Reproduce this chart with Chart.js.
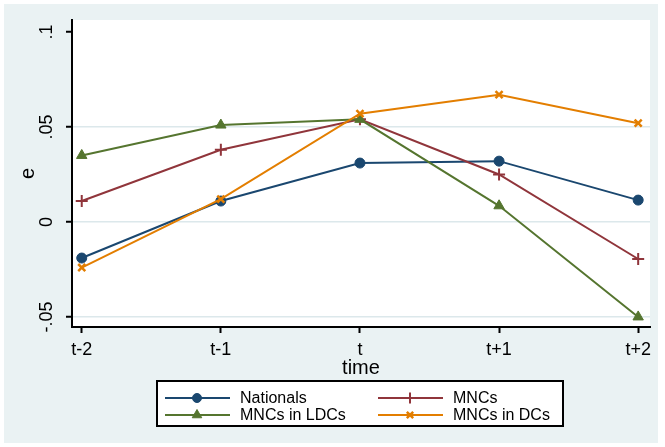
<!DOCTYPE html>
<html lang="en">
<head>
<meta charset="UTF-8">
<title>e over time</title>
<style>
  html, body { margin: 0; padding: 0; background: #ffffff; }
  #frame { position: absolute; left: 4px; top: 4px; width: 654px; height: 439px; background: #EAF2F3; }
  canvas { display: block; }
</style>
</head>
<body>
<div id="frame"><canvas id="eChart" width="654" height="439"></canvas></div>

<script src="https://cdn.jsdelivr.net/npm/chart.js"></script>
<script>
    const periods = ['t-2', 't-1', 't', 't+1', 't+2'];
    const nationals = [-0.019, 0.011, 0.031, 0.032, 0.0115];
    const mncs = [0.011, 0.038, 0.054, 0.025, -0.0195];
    const mncsLDCs = [0.035, 0.051, 0.054, 0.0085, -0.050];
    const mncsDCs = [-0.024, 0.012, 0.057, 0.067, 0.052];
    const yTicks = [-0.05, 0, 0.05, 0.1];
    const yTickLabels = ['-.05', '0', '.05', '.1'];

    const FONT = 'Liberation Sans, Arial, sans-serif';

    function toPoints(values) {
        return values.map((v, i) => ({ x: i - 2, y: v }));
    }

    function series(label, values, color, style, radius, bw, order) {
        return {
            label: label, data: toPoints(values), order: order,
            borderColor: color, backgroundColor: color, borderWidth: 2,
            pointStyle: style, pointRadius: radius, pointBorderWidth: bw,
            pointBackgroundColor: color, pointBorderColor: color, tension: 0
        };
    }

    // white plot region, rotated y labels and the boxed two-column legend
    const stataFrame = {
        id: 'stataFrame',
        beforeDraw(chart) {
            const a = chart.chartArea, ctx = chart.ctx;
            ctx.save();
            ctx.fillStyle = '#ffffff';
            ctx.fillRect(a.left, a.top, a.right - a.left, a.bottom - a.top);
            ctx.restore();
        },
        afterDraw(chart) {
            const ctx = chart.ctx, ys = chart.scales.y;
            ctx.save();
            ctx.fillStyle = '#000';
            ctx.font = '18px ' + FONT;
            ctx.textAlign = 'center';
            ctx.textBaseline = 'middle';
            yTicks.forEach((v, i) => {
                ctx.save();
                ctx.translate(43, ys.getPixelForValue(v));
                ctx.rotate(-Math.PI / 2);
                ctx.fillText(yTickLabels[i], 0, 0);
                ctx.restore();
            });

            // legend
            const bx = 153, by = 377, bw = 406, bh = 45;
            ctx.fillStyle = '#ffffff';
            ctx.fillRect(bx, by, bw, bh);
            ctx.strokeStyle = '#000';
            ctx.lineWidth = 2;
            ctx.strokeRect(bx, by, bw, bh);
            const cols = [161, 374], rows = [394, 411];
            chart.data.datasets.forEach((ds, i) => {
                const x0 = cols[i % 2], y0 = rows[Math.floor(i / 2)];
                ctx.strokeStyle = ds.borderColor;
                ctx.fillStyle = ds.borderColor;
                ctx.lineWidth = 2;
                ctx.beginPath();
                ctx.moveTo(x0, y0);
                ctx.lineTo(x0 + 65, y0);
                ctx.stroke();
                ctx.lineWidth = ds.pointBorderWidth;
                Chart.helpers.drawPoint(ctx, {
                    pointStyle: ds.pointStyle, radius: ds.pointRadius - 0.5,
                    borderWidth: ds.pointBorderWidth, rotation: 0
                }, x0 + 32, y0);
                ctx.fillStyle = '#000';
                ctx.font = '16px ' + FONT;
                ctx.textAlign = 'left';
                ctx.textBaseline = 'middle';
                ctx.fillText(ds.label, x0 + 75, y0 + 1);
            });
            ctx.restore();
        }
    };

    const chart = new Chart(document.getElementById('eChart').getContext('2d'), {
        type: 'line',
        data: {
            datasets: [
                series('Nationals', nationals, '#1A476F', 'circle', 5, 1, 3),
                series('MNCs', mncs, '#90353B', 'cross', 6, 2, 2),
                series('MNCs in LDCs', mncsLDCs, '#55752F', 'triangle', 6, 1, 1),
                series('MNCs in DCs', mncsDCs, '#E37E00', 'crossRot', 5, 2.5, 0)
            ]
        },
        options: {
            responsive: false,
            animation: false,
            layout: { padding: { top: 16, right: 5, left: 0, bottom: 62 } },
            plugins: { legend: { display: false }, tooltip: { enabled: false } },
            scales: {
                x: {
                    type: 'linear', min: -2.07, max: 2.085,
                    afterFit: s => { s.height = 54; },
                    ticks: {
                        stepSize: 1, includeBounds: false, autoSkip: false,
                        maxRotation: 0, padding: 6, color: '#000',
                        font: { family: FONT, size: 18 },
                        callback: v => periods[v + 2]
                    },
                    grid: { drawOnChartArea: false, tickLength: 6, tickColor: '#000', tickWidth: 2 },
                    border: { display: true, color: '#000', width: 2 },
                    title: { display: true, text: 'time', color: '#000', padding: { top: 0, bottom: 1 },
                             font: { family: FONT, size: 20 } }
                },
                y: {
                    min: -0.0553, max: 0.1063,
                    afterFit: s => { s.width = 68; },
                    ticks: { display: false, stepSize: 0.05, includeBounds: false },
                    grid: {
                        color: c => (c.tick && Math.abs(c.tick.value - 0.1) < 1e-9) ? 'rgba(0,0,0,0)' : '#DCE8EB',
                        lineWidth: 1.5, tickLength: 6, tickColor: '#000', tickWidth: 2
                    },
                    border: { display: true, color: '#000', width: 2 },
                    title: { display: true, text: 'e', color: '#000', padding: { top: 12, bottom: 0 },
                             font: { family: FONT, size: 20 } }
                }
            }
        },
        plugins: [stataFrame]
    });
</script>
</body>
</html>
